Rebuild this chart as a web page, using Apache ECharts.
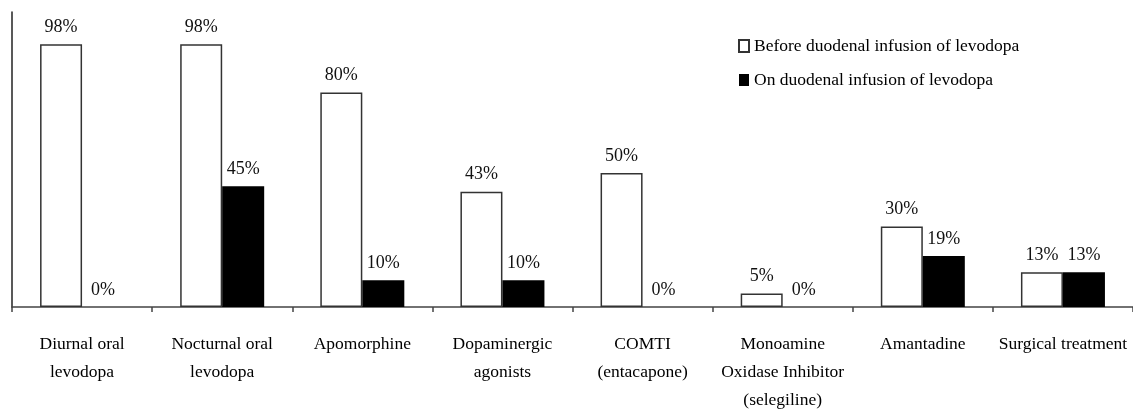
<!DOCTYPE html>
<html><head><meta charset="utf-8">
<script src="https://cdn.jsdelivr.net/npm/echarts@6/dist/echarts.min.js"></script>
<style>html,body{margin:0;padding:0;background:#fff}#c{width:1133px;height:418px}</style>
</head><body><div id="c"></div>
<script>
var categories = ["Diurnal oral\nlevodopa","Nocturnal oral\nlevodopa","Apomorphine","Dopaminergic\nagonists","COMTI\n(entacapone)","Monoamine\nOxidase Inhibitor\n(selegiline)","Amantadine","Surgical treatment"];
var before = [98,98,80,43,50,5,30,13];
var during = [0,45,10,10,0,0,19,13];
var seriesNames = ["Before duodenal infusion of levodopa","On duodenal infusion of levodopa"];
var font = "'Liberation Serif','Times New Roman',serif";
var chart = echarts.init(document.getElementById('c'));
var lbl = {show:true,position:'top',distance:8,formatter:'{c}%',color:'#111',fontFamily:font,fontSize:18};
chart.setOption({
  animation:false,
  grid:{left:12,right:0,top:12,bottom:111,containLabel:false},
  legend:{orient:'vertical',left:733,top:32,itemWidth:10,itemHeight:12,itemGap:16,icon:'rect',
    textStyle:{fontFamily:font,fontSize:17.5,color:'#000'},data:seriesNames},
  xAxis:{type:'category',data:categories,
    axisLine:{lineStyle:{color:'#444',width:1.5}},
    axisTick:{show:true,length:5,lineStyle:{color:'#444',width:1.5}},
    axisLabel:{interval:0,margin:23,fontFamily:font,fontSize:17.5,color:'#000',lineHeight:28}},
  yAxis:{type:'value',min:0,max:110,splitLine:{show:false},axisLabel:{show:false},
    axisTick:{show:false},axisLine:{show:true,lineStyle:{color:'#222',width:1.5}}},
  series:[
    {name:seriesNames[0],type:'bar',data:before,barWidth:42,barGap:'0%',
      itemStyle:{color:'#fff',borderColor:'#333',borderWidth:1.5},label:lbl},
    {name:seriesNames[1],type:'bar',data:during,barWidth:42,
      itemStyle:{color:'#000',borderWidth:0},label:lbl}
  ]
});
</script></body></html>
